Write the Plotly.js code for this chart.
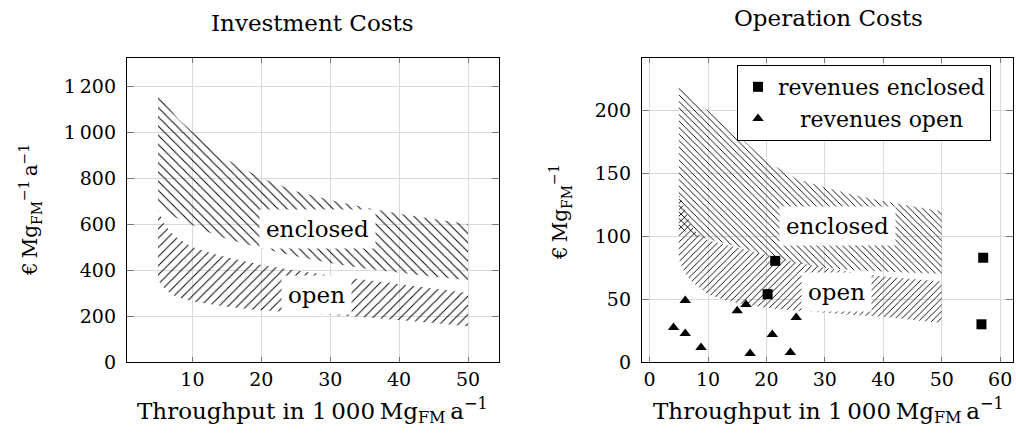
<!DOCTYPE html>
<html>
<head>
<meta charset="utf-8">
<script src="https://cdn.plot.ly/plotly-3.0.1.min.js"></script>
<style>html,body{margin:0;padding:0;background:#fff;}#chart{width:1016px;height:436px;}</style>
</head>
<body>
<div id="chart"></div>
<script>
// ---- Investment costs (left) ----
const invX = [5, 6, 7, 8, 10, 12.5, 15, 20, 25, 30, 35, 40, 45, 50];
const invEnclosedUpper = [1175, 1130, 1090, 1055, 1000, 935, 880, 800, 742, 705, 672, 645, 622, 600];
const invEnclosedLower = [675, 655, 638, 622, 595, 562, 535, 495, 460, 430, 407, 388, 371, 357];
const invOpenUpper = [660, 595, 560, 535, 500, 475, 455, 422, 398, 376, 358, 340, 320, 300];
const invOpenLower = [355, 318, 293, 280, 263, 250, 240, 225, 213, 204, 195, 183, 170, 155];

// ---- Operation costs (right) ----
const opX = [5, 6, 7, 8, 10, 12.5, 15, 20, 25, 30, 35, 40, 45, 50];
const opEnclosedUpper = [219, 215, 211, 207, 200, 190, 181, 160, 146, 139, 133, 128, 124, 120];
const opEnclosedLower = [107, 104, 102, 100, 98, 95, 92, 85, 79, 75, 73, 72, 71, 70];
const opOpenUpper = [134, 122, 110, 103, 97, 94, 91, 85.5, 79.5, 75, 71, 68, 66, 64];
const opOpenLower = [82, 71, 65, 61, 54, 50, 47, 43, 41, 39, 37.5, 36, 33.5, 31];

const revEnclosedX = [21.5, 20.2, 57.1, 56.8];
const revEnclosedY = [80.5, 54, 83, 30];
const revOpenX = [6.1, 4.1, 6.1, 8.8, 15.0, 16.5, 17.2, 21.0, 24.1, 25.1];
const revOpenY = [49, 27.4, 22.6, 11.5, 40.7, 45.8, 6.7, 21.8, 7.5, 35.4];

// ---- tick labels / texts ----
const invYTicks = [0, 200, 400, 600, 800, 1000, 1200];
const invYTickText = ['0', '200', '400', '600', '800', '1\u2009000', '1\u2009200'];
const invXTicks = [10, 20, 30, 40, 50];
const opXTicks = [0, 10, 20, 30, 40, 50, 60];
const opYTicks = [0, 50, 100, 150, 200];

const FONT = 'DejaVu Serif, Liberation Serif, serif';

function band(x, lower, upper, shape, xa, ya, size, sol) {
  return [
    {x: x, y: lower, xaxis: xa, yaxis: ya, mode: 'lines', line: {width: 0, color: 'rgba(0,0,0,0)'},
     showlegend: false, hoverinfo: 'skip'},
    {x: x, y: upper, xaxis: xa, yaxis: ya, mode: 'lines', line: {width: 0, color: 'rgba(0,0,0,0)'},
     fill: 'tonexty', fillcolor: 'rgba(0,0,0,0)',
     fillpattern: {shape: shape, size: size, solidity: sol, fgcolor: '#000', bgcolor: 'rgba(0,0,0,0)'},
     showlegend: false, hoverinfo: 'skip'}
  ];
}

const data = [].concat(
  band(invX, invOpenLower, invOpenUpper, '/', 'x', 'y', 6.5, 0.15),
  band(invX, invEnclosedLower, invEnclosedUpper, '\\', 'x', 'y', 6.5, 0.15),
  band(opX, opOpenLower, opOpenUpper, '/', 'x2', 'y2', 4.6, 0.2),
  band(opX, opEnclosedLower, opEnclosedUpper, '\\', 'x2', 'y2', 4.6, 0.2),
  [
    {x: revEnclosedX, y: revEnclosedY, xaxis: 'x2', yaxis: 'y2', mode: 'markers', type: 'scatter',
     name: 'revenues enclosed', marker: {symbol: 'square', size: 10, color: '#000'}},
    {x: revOpenX, y: revOpenY, xaxis: 'x2', yaxis: 'y2', mode: 'markers', type: 'scatter',
     name: '\u2002\u2002revenues open', marker: {symbol: 'triangle-up', size: 10, color: '#000'}}
  ]
);

const W = 1016, H = 436;
const axisCommon = {
  showline: true, linecolor: '#000', linewidth: 1.2, mirror: 'ticks',
  ticks: 'inside', tickcolor: '#777', tickwidth: 1,
  showgrid: true, gridcolor: '#d9d9d9', gridwidth: 1, zeroline: false,
  tickfont: {family: FONT, size: 19, color: '#000'}, tickmode: 'array'
};

function ann(text, x, y, size, extra) {
  return Object.assign({text: text, xref: 'paper', yref: 'paper', x: x / W, y: 1 - y / H,
    xanchor: 'center', yanchor: 'middle', showarrow: false,
    font: {family: FONT, size: size, color: '#000'}}, extra || {});
}
function label(text, xr, yr, x, y) {
  return {text: text, xref: xr, yref: yr, x: x, y: y, xanchor: 'center', yanchor: 'middle',
    showarrow: false, bgcolor: '#fff', borderpad: 6, font: {family: FONT, size: 23, color: '#000'}};
}

const xTitle = 'Throughput in 1\u2009000\u2009Mg<sub>FM</sub>\u2009a<sup>\u22121</sup>';

const layout = {
  width: W, height: H,
  margin: {l: 0, r: 0, t: 0, b: 0},
  paper_bgcolor: '#fff', plot_bgcolor: '#fff',
  showlegend: true,
  legend: {x: 737 / W, xanchor: 'left', y: 1 - 65 / H, yanchor: 'top', traceorder: 'normal',
           bgcolor: '#fff', bordercolor: '#000', borderwidth: 1,
           font: {family: FONT, size: 22, color: '#000'}, tracegroupgap: 0},
  xaxis: Object.assign({}, axisCommon, {domain: [127 / W, 499 / W], range: [0.5, 54.5],
           tickvals: invXTicks, ticklen: 5, anchor: 'y'}),
  yaxis: Object.assign({}, axisCommon, {domain: [1 - 362 / H, 1 - 58 / H], range: [0, 1322],
           tickvals: invYTicks, ticktext: invYTickText, ticklen: 7, anchor: 'x', ticklabelstandoff: 6}),
  xaxis2: Object.assign({}, axisCommon, {domain: [642 / W, 1013 / W], range: [-1.3, 62.2],
           tickvals: opXTicks, ticklen: 5, anchor: 'y2'}),
  yaxis2: Object.assign({}, axisCommon, {domain: [1 - 362 / H, 1 - 58 / H], range: [0, 242],
           tickvals: opYTicks, ticklen: 7, anchor: 'x2', ticklabelstandoff: 6}),
  annotations: [
    ann('Investment Costs', 312, 23, 23),
    ann('Operation Costs', 828, 18, 23),
    ann(xTitle, 312, 410, 23),
    ann(xTitle, 828, 410, 23),
    ann('\u20ac\u2009Mg<sub>FM</sub><sup>\u22121</sup>\u2009a<sup>\u22121</sup>', 30, 210, 20, {textangle: -90}),
    ann('\u20ac\u2009Mg<sub>FM</sub><sup>\u22121</sup>', 560, 212, 20, {textangle: -90}),
    label('enclosed', 'x', 'y', 28.1, 578),
    label('open', 'x', 'y', 28.0, 291),
    label('enclosed', 'x2', 'y2', 32.1, 108),
    label('open', 'x2', 'y2', 32.0, 55.6)
  ]
};

Plotly.newPlot('chart', data, layout, {displayModeBar: false, staticPlot: true});
</script>
</body>
</html>
